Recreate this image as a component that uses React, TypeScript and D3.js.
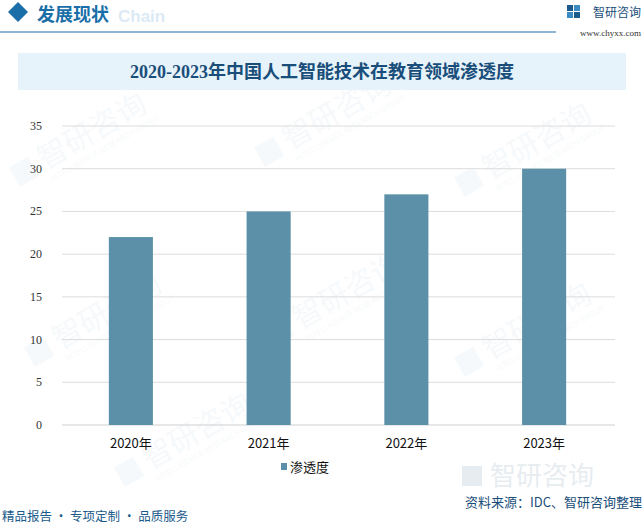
import React from "react";
import * as d3 from "d3";

const categories = ["2020年", "2021年", "2022年", "2023年"];
const values = [22, 25, 27, 30];
const yTicks = [0, 5, 10, 15, 20, 25, 30, 35];
const seriesName = "渗透度";
const title = "2020-2023年中国人工智能技术在教育领域渗透度";
const source = "资料来源：IDC、智研咨询整理";
const slogan = "精品报告 · 专项定制 · 品质服务";

const W = 644;
const H = 525;

export default function App() {
  const x = d3.scaleBand<string>().domain(categories).range([62, 613]).paddingInner(0.68).paddingOuter(0.34);
  const y = d3.scaleLinear().domain([0, 35]).range([425, 126]);
  const barColor = "#5b90a8";
  const serif = "'Liberation Serif', 'DejaVu Serif', 'Noto Sans CJK SC', serif";
  const sans = "'Noto Sans CJK SC', 'Noto Sans', sans-serif";

  const wm = [
    [45, 170], [290, 150], [490, 180], [60, 350], [300, 330], [490, 360], [150, 470],
  ];

  return (
    <div style={{ position: "fixed", left: 0, top: 0, width: W, height: H, overflow: "hidden" }}>
      <svg width={W} height={H} style={{ display: "block", background: "#fff" }}>
        <defs>
          <linearGradient id="fl" x1="0" x2="1" y1="0" y2="0">
            <stop offset="0" stopColor="#1a6fa8" />
            <stop offset="1" stopColor="#9cc4de" />
          </linearGradient>
        </defs>
        {wm.map(([wx, wy], i) => (
          <g key={i} transform={`translate(${wx},${wy}) rotate(-30)`} opacity={0.035}>
            <rect x={-30} y={-20} width={22} height={22} fill="#1a6fa8" />
            <text x={0} y={0} fontSize={30} fontFamily={sans} fill="#1a6fa8">智研咨询</text>
            <text x={0} y={14} fontSize={8} fontFamily={sans} fill="#1a6fa8">INTELLIGENCE RESEARCH GROUP</text>
          </g>
        ))}
        <path d="M8,12 L18,2 L28,12 L18,22 Z" fill="#1a6fa8" />
        <text x={118} y={22} fontSize={17} fontWeight="bold" fontFamily="Arial, 'Liberation Sans', sans-serif" fill="#dbeaf5">Chain</text>
        <text x={37} y={21} fontSize={18} fontWeight="bold" fontFamily={sans} fill="#1a6fa8">发展现状</text>
        <line x1={0} y1={32} x2={556} y2={32} stroke="#1a6fa8" strokeWidth={1.2} />
        <g fill="#1a5a8c">
          <rect x={567} y={5} width={6} height={6} />
          <rect x={574} y={5} width={6} height={6} fill="#3a8ac4" />
          <rect x={567} y={12} width={6} height={6} fill="#3a8ac4" />
          <rect x={574} y={12} width={6} height={6} />
        </g>
        <text x={641} y={17} textAnchor="end" fontSize={12} fontFamily={sans} fill="#1a4e7a">智研咨询</text>
        <text x={641} y={36} textAnchor="end" fontSize={9} fontFamily={serif} fill="#333">www.chyxx.com</text>
        <rect x={18} y={53} width={608} height={37} fill="#e6f3fb" />
        <text x={322} y={78} textAnchor="middle" fontSize={18} fontWeight="bold" fontFamily={serif} fill="#1a4e7a">{title}</text>
        {yTicks.map((t) => (
          <g key={t}>
            <line x1={62} x2={615} y1={y(t)} y2={y(t)} stroke={t === 0 ? "#cfcfcf" : "#dcdcdc"} strokeWidth={1} />
            <text x={42} y={y(t) + 4} textAnchor="end" fontSize={12} fontFamily={serif} fill="#333">{t}</text>
          </g>
        ))}
        {values.map((v, i) => (
          <rect key={i} x={x(categories[i])} y={y(v)} width={x.bandwidth()} height={y(0) - y(v)} fill={barColor} />
        ))}
        {categories.map((c) => (
          <text key={c} x={(x(c) as number) + x.bandwidth() / 2} y={448} textAnchor="middle" fontSize={13} fontFamily={sans} fill="#111">{c}</text>
        ))}
        <rect x={281} y={463} width={6} height={7} fill={barColor} />
        <text x={290} y={472} fontSize={13} fontFamily={sans} fill="#111">{seriesName}</text>
        <g opacity={0.2}>
          <text x={490} y={485} fontSize={26} fontFamily={sans} fill="#8aa3b8">智研咨询</text>
          <rect x={462} y={466} width={20} height={20} fill="#8aa3b8" />
        </g>
        <line x1={0} y1={503} x2={445} y2={503} stroke="url(#fl)" strokeWidth={1.5} />
        <text x={642} y={507} textAnchor="end" fontSize={13} fontFamily={sans} fill="#1a4e7a">{source}</text>
        <text x={2} y={521} fontSize={12.5} fontFamily={sans} fill="#1a5a8c">{slogan}</text>
      </svg>
    </div>
  );
}
